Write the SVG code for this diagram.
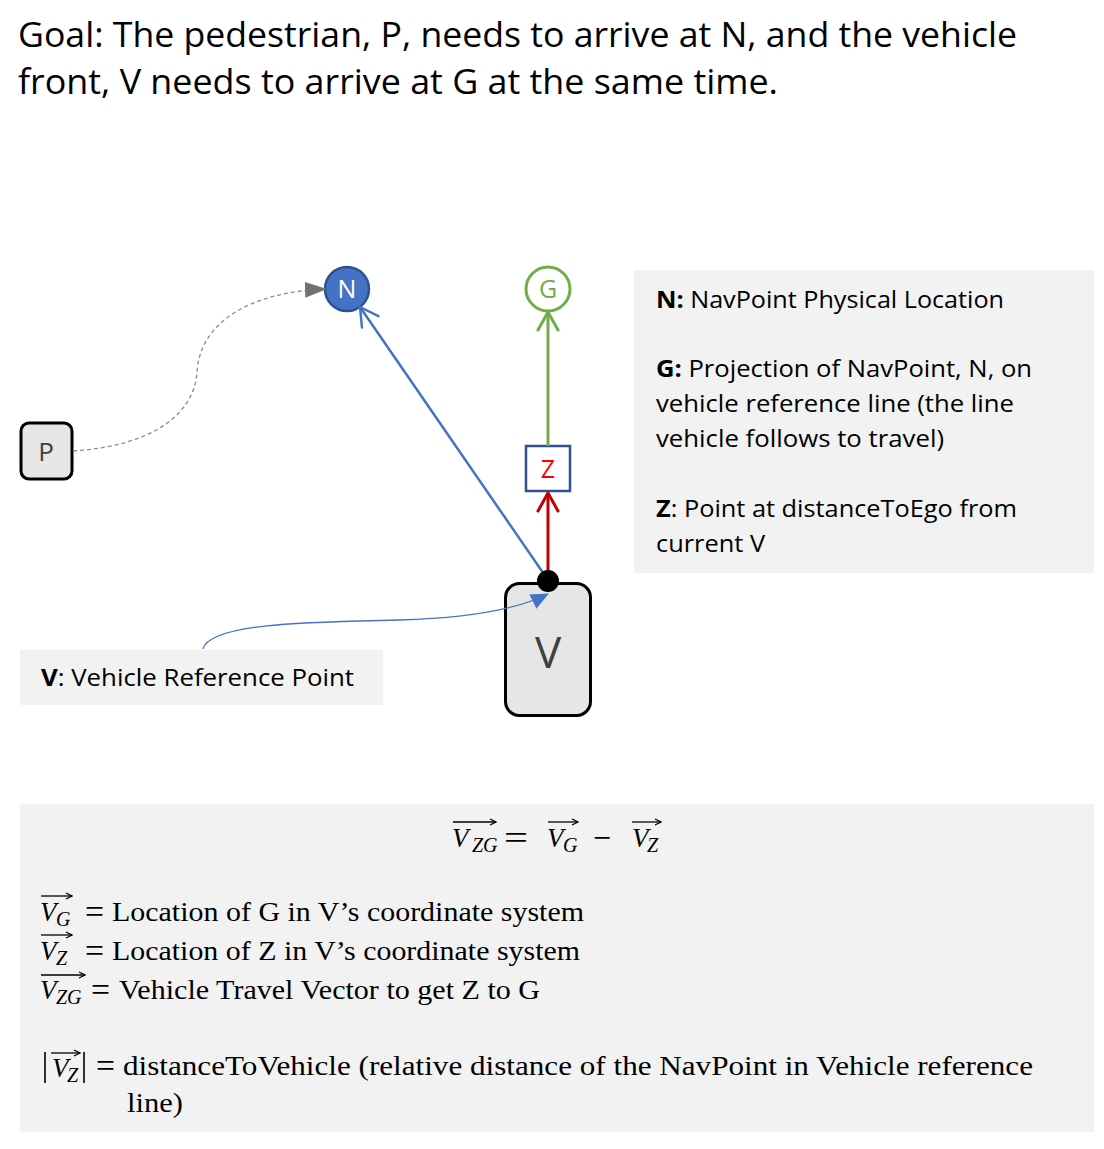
<svg xmlns="http://www.w3.org/2000/svg" width="1104" height="1149" viewBox="0 0 1104 1149">
<style>
.sans{font-family:"Open Sans","Noto Sans","Liberation Sans",sans-serif;}
.serif{font-family:"Liberation Serif","DejaVu Serif",serif;}
.mi{font-family:"Liberation Serif","DejaVu Serif",serif;font-style:italic;}
.panel{fill:#F2F2F2;}
.lbl{font-size:24px;fill:#000;}
.math{font-size:27px;fill:#000;}
.eq{font-size:34px;fill:#000;}
.sub{font-size:20px;fill:#000;}
.ov{stroke:#000;stroke-width:1.3;fill:none;}
</style>
<defs>
<marker id="chevBlue" markerUnits="userSpaceOnUse" viewBox="0 0 22 24" refX="20" refY="12" markerWidth="22" markerHeight="24" orient="auto"><path d="M2,2 L20,12 L2,22" fill="none" stroke="#4472C4" stroke-width="2.5" stroke-linecap="round" stroke-linejoin="round"/></marker>
<marker id="chevGreen" markerUnits="userSpaceOnUse" viewBox="0 0 22 24" refX="20" refY="12" markerWidth="22" markerHeight="24" orient="auto"><path d="M2,2 L20,12 L2,22" fill="none" stroke="#70AD47" stroke-width="3" stroke-linecap="round" stroke-linejoin="round"/></marker>
<marker id="chevRed" markerUnits="userSpaceOnUse" viewBox="0 0 22 24" refX="20" refY="12" markerWidth="22" markerHeight="24" orient="auto"><path d="M2,2 L20,12 L2,22" fill="none" stroke="#C00000" stroke-width="3" stroke-linecap="round" stroke-linejoin="round"/></marker>
<marker id="triGray" markerUnits="userSpaceOnUse" viewBox="0 0 22 16" refX="21" refY="8" markerWidth="22" markerHeight="16" orient="auto"><path d="M0,0 L22,8 L0,16 Z" fill="#767171"/></marker>
<marker id="triBlue" markerUnits="userSpaceOnUse" viewBox="0 0 18 16" refX="17" refY="8" markerWidth="18" markerHeight="16" orient="auto"><path d="M0,0 L18,8 L0,16 Z" fill="#4472C4"/></marker>
<marker id="ah" markerUnits="userSpaceOnUse" viewBox="0 0 8 8" refX="7" refY="4" markerWidth="8" markerHeight="8" orient="auto"><path d="M1,1 L7,4 L1,7" fill="none" stroke="#000" stroke-width="1.2"/></marker>
</defs>
<rect width="1104" height="1149" fill="#FFFFFF"/>

<g id="title" class="sans" font-size="35" fill="#000">
<text x="18" y="47" textLength="999" lengthAdjust="spacingAndGlyphs">Goal: The pedestrian, P, needs to arrive at N, and the vehicle</text>
<text x="18" y="94" textLength="760" lengthAdjust="spacingAndGlyphs">front, V needs to arrive at G at the same time.</text>
</g>

<g id="legend-right">
<rect class="panel" x="634" y="270" width="460" height="303"/>
<g class="sans lbl">
<text x="656" y="308" textLength="348" lengthAdjust="spacingAndGlyphs"><tspan font-weight="bold">N:</tspan> NavPoint Physical Location</text>
<text x="656" y="377" textLength="376" lengthAdjust="spacingAndGlyphs"><tspan font-weight="bold">G:</tspan> Projection of NavPoint, N, on</text>
<text x="656" y="412" textLength="358" lengthAdjust="spacingAndGlyphs">vehicle reference line (the line</text>
<text x="656" y="447" textLength="288" lengthAdjust="spacingAndGlyphs">vehicle follows to travel)</text>
<text x="656" y="517" textLength="361" lengthAdjust="spacingAndGlyphs"><tspan font-weight="bold">Z</tspan>: Point at distanceToEgo from</text>
<text x="656" y="552" textLength="109" lengthAdjust="spacingAndGlyphs">current V</text>
</g>
</g>

<g id="legend-v">
<rect class="panel" x="20" y="650" width="363" height="55"/>
<text class="sans lbl" x="41" y="686" textLength="313" lengthAdjust="spacingAndGlyphs"><tspan font-weight="bold">V</tspan>: Vehicle Reference Point</text>
</g>

<g id="node-N">
<ellipse cx="347" cy="289" rx="22" ry="22" fill="#4472C4" stroke="#2F528F" stroke-width="2.5"/>
<text class="sans" x="347" y="298" font-size="25" fill="#FFFFFF" text-anchor="middle">N</text>
</g>

<g id="node-G">
<ellipse cx="548" cy="289" rx="22" ry="22" fill="#FFFFFF" stroke="#70AD47" stroke-width="3"/>
<text class="sans" x="548" y="298" font-size="25" fill="#70AD47" text-anchor="middle">G</text>
</g>

<g id="node-P">
<rect x="21" y="423" width="51" height="56" rx="8" fill="#E6E6E6" stroke="#000" stroke-width="3"/>
<text class="sans" x="46" y="461" font-size="26" fill="#404040" text-anchor="middle">P</text>
</g>

<g id="node-Z">
<rect x="526" y="446" width="44" height="45" fill="#FFFFFF" stroke="#2F528F" stroke-width="2.5"/>
<text class="sans" x="548" y="478" font-size="25" fill="#FF0000" text-anchor="middle">Z</text>
</g>

<g id="node-V">
<rect x="505.5" y="583.5" width="85" height="132" rx="14" fill="#E6E6E6" stroke="#000" stroke-width="3"/>
<text class="sans" x="548" y="668" font-size="44" fill="#404040" text-anchor="middle">V</text>
</g>

<g id="connectors">
<path d="M73,451 C150,446 194,416 197,372 C200,322 250,292 326,289" fill="none" stroke="#8C8C8C" stroke-width="1.3" stroke-dasharray="4,3" marker-end="url(#triGray)"/>
<path d="M203,649 C210,622 320,622 400,620 C470,618 520,608 548,594" fill="none" stroke="#4472C4" stroke-width="1.3" marker-end="url(#triBlue)"/>
<line x1="548" y1="580" x2="360" y2="307" stroke="#4472C4" stroke-width="2.5" marker-end="url(#chevBlue)"/>
<line x1="548" y1="446" x2="548" y2="312" stroke="#70AD47" stroke-width="3" marker-end="url(#chevGreen)"/>
<line x1="548" y1="572" x2="548" y2="493" stroke="#C00000" stroke-width="3" marker-end="url(#chevRed)"/>
</g>

<g id="node-Vpoint">
<circle cx="548" cy="581" r="11" fill="#000"/>
</g>

<g id="formulas">
<rect class="panel" x="20" y="804" width="1074" height="328"/>
<!-- main equation -->
<text class="mi math" x="452" y="847">V</text>
<text class="mi sub" x="472" y="852">ZG</text>
<line class="ov" x1="453" y1="822" x2="496" y2="822" marker-end="url(#ah)"/>
<text class="serif eq" x="504" y="849" textLength="24" lengthAdjust="spacingAndGlyphs">=</text>
<text class="mi math" x="547" y="847">V</text>
<text class="mi sub" x="563" y="852">G</text>
<line class="ov" x1="548" y1="822" x2="578" y2="822" marker-end="url(#ah)"/>
<text class="serif eq" x="593" y="849" textLength="18" lengthAdjust="spacingAndGlyphs">−</text>
<text class="mi math" x="632" y="847">V</text>
<text class="mi sub" x="647" y="852">Z</text>
<line class="ov" x1="632" y1="822" x2="661" y2="822" marker-end="url(#ah)"/>

<!-- line 1 -->
<text class="mi math" x="40" y="921">V</text>
<text class="mi sub" x="56" y="926">G</text>
<line class="ov" x1="41" y1="896" x2="72" y2="896" marker-end="url(#ah)"/>
<text class="serif eq" x="85" y="923" textLength="19" lengthAdjust="spacingAndGlyphs">=</text>
<text class="serif math" x="112" y="921" textLength="472" lengthAdjust="spacingAndGlyphs">Location of G in V’s coordinate system</text>
<!-- line 2 -->
<text class="mi math" x="40" y="960">V</text>
<text class="mi sub" x="56" y="965">Z</text>
<line class="ov" x1="41" y1="935" x2="72" y2="935" marker-end="url(#ah)"/>
<text class="serif eq" x="85" y="962" textLength="19" lengthAdjust="spacingAndGlyphs">=</text>
<text class="serif math" x="112" y="960" textLength="468" lengthAdjust="spacingAndGlyphs">Location of Z in V’s coordinate system</text>
<!-- line 3 -->
<text class="mi math" x="40" y="999">V</text>
<text class="mi sub" x="56" y="1004">ZG</text>
<line class="ov" x1="41" y1="975" x2="85" y2="975" marker-end="url(#ah)"/>
<text class="serif eq" x="91" y="1001" textLength="19" lengthAdjust="spacingAndGlyphs">=</text>
<text class="serif math" x="119" y="999" textLength="421" lengthAdjust="spacingAndGlyphs">Vehicle Travel Vector to get Z to G</text>
<!-- line 4 -->
<line x1="45" y1="1052" x2="45" y2="1083" stroke="#000" stroke-width="1.6"/>
<text class="mi math" x="52" y="1077">V</text>
<text class="mi sub" x="67" y="1082">Z</text>
<line class="ov" x1="51" y1="1053" x2="80" y2="1053" marker-end="url(#ah)"/>
<line x1="84" y1="1052" x2="84" y2="1083" stroke="#000" stroke-width="1.6"/>
<text class="serif eq" x="96" y="1077" textLength="19" lengthAdjust="spacingAndGlyphs">=</text>
<text class="serif math" x="123" y="1075" textLength="910" lengthAdjust="spacingAndGlyphs">distanceToVehicle (relative distance of  the NavPoint in Vehicle reference</text>
<text class="serif math" x="127" y="1112" textLength="56" lengthAdjust="spacingAndGlyphs">line)</text>
</g>
</svg>
